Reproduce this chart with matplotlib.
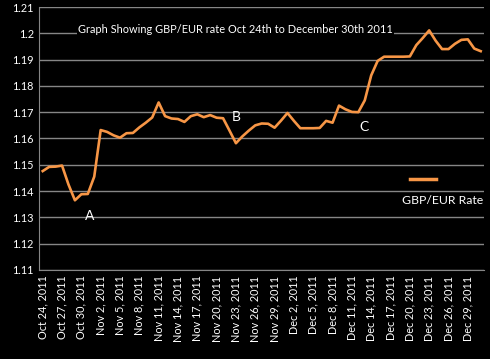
import pandas as pd
import matplotlib
matplotlib.use("Agg")
import matplotlib.pyplot as plt
from matplotlib.lines import Line2D

# daily GBP/EUR rate, Oct 24 to Dec 31 2011
rates = [1.1476, 1.1492, 1.1493, 1.1497, 1.1425, 1.1365, 1.1388, 1.1389,
         1.1455, 1.1632, 1.1625, 1.1612, 1.1603, 1.1620, 1.1621, 1.1642,
         1.1660, 1.1680, 1.1737, 1.1685, 1.1676, 1.1674, 1.1663, 1.1685,
         1.1692, 1.1681, 1.1689, 1.1679, 1.1677, 1.1630, 1.1582, 1.1608,
         1.1630, 1.1650, 1.1657, 1.1656, 1.1641, 1.1668, 1.1697, 1.1667,
         1.1639, 1.1639, 1.1639, 1.1640, 1.1667, 1.1660, 1.1725, 1.1711,
         1.1701, 1.1700, 1.1745, 1.1840, 1.1895, 1.1911, 1.1911, 1.1911,
         1.1911, 1.1912, 1.1955, 1.1982, 1.2011, 1.1972, 1.1940, 1.1940,
         1.1960, 1.1975, 1.1977, 1.1942, 1.1932]
dates = pd.date_range("2011-10-24", periods=len(rates), freq="D")
tick_dates = dates[::3][:23]
tick_labels = [f"{d.strftime('%b')} {d.day}, {d.year}" for d in tick_dates]
y_ticks = [1.11, 1.12, 1.13, 1.14, 1.15, 1.16, 1.17, 1.18, 1.19, 1.20, 1.21]

# point labels
notes = [("A", "2011-10-31 06:00", 1.1305), ("B", "2011-11-23", 1.1683),
         ("C", "2011-12-12 20:00", 1.1642)]

plt.rcParams['font.family'] = ['Lato', 'DejaVu Sans']

fig = plt.figure(figsize=(4.9, 3.59), dpi=100, facecolor="black")
ax = fig.add_axes([0.0806, 0.248, 0.907, 0.7325], facecolor="black")

ax.plot(dates, rates, color="#F79646", lw=1.9, zorder=3)

ax.set_ylim(1.11, 1.21)
ax.set_yticks(y_ticks)
ax.set_yticklabels([f"{v:g}" for v in y_ticks])
ax.set_xlim(dates[0] - pd.Timedelta(hours=12), dates[-1] + pd.Timedelta(hours=12))
ax.set_xticks(tick_dates)
ax.set_xticklabels(tick_labels, rotation=90)
ax.tick_params(colors="white", labelsize=7.8, length=0, pad=4)
ax.grid(axis="y", color="#868686", lw=1)
ax.set_axisbelow(True)
for side in ["top", "right"]:
    ax.spines[side].set_visible(False)
for side in ["left", "bottom"]:
    ax.spines[side].set_color("#868686")

for txt, d, v in notes:
    ax.text(pd.Timestamp(d), v, txt, color="white", fontsize=10,
            ha="center", va="center")

ax.text(0.087, 0.916, "Graph Showing GBP/EUR rate Oct 24th to December 30th 2011",
        transform=ax.transAxes, color="white", fontsize=7.9, va="center",
        bbox=dict(facecolor="black", edgecolor="none", pad=1))

# legend, drawn the way the original stacks it
fig.add_artist(Line2D([410 / 490, 436 / 490], [1 - 179 / 359, 1 - 179 / 359],
                      color="#F79646", lw=2.5))
fig.text(402 / 490, 1 - 200 / 359, "GBP/EUR Rate", color="white", fontsize=8.8,
         va="center", bbox=dict(facecolor="black", edgecolor="none", pad=1))

fig.savefig("out.png", dpi=100, facecolor="black")
